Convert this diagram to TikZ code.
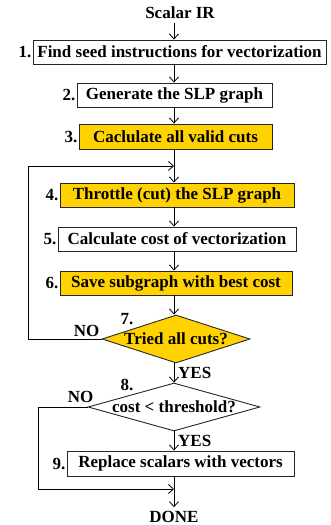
\documentclass[tikz,border=0pt]{standalone}
\usepackage{fontspec}
\setmainfont{Liberation Serif}
\usetikzlibrary{shapes.geometric, arrows.meta, positioning, calc}
\definecolor{slpyellow}{RGB}{255,210,0}
\tikzstyle{process} = [rectangle, minimum height=24pt, inner sep=2pt, text centered, draw=black!85, line width=0.9pt, fill=white]
\tikzstyle{hot} = [process, fill=slpyellow]
\tikzstyle{decision} = [diamond, inner sep=0pt, draw=black!85, line width=0.9pt, text centered]
\tikzstyle{num} = [inner sep=1pt]
\tikzstyle{lbl} = [inner sep=0pt]
\tikzstyle{arrow} = [line width=0.8pt, -{Straight Barb[length=5pt,width=9pt]}]

\begin{document}
\begin{tikzpicture}[x=1pt, y=1pt, font=\fontsize{17}{20}\selectfont\bfseries]
        \useasboundingbox (0,0) rectangle (331,525);
        \coordinate (spine) at (174,0);

        % Flujo principal
        \node (ir) at (180,512) {Scalar IR};
        \node (step1) [process, minimum width=293pt] at (179.5,473) {Find seed instructions for vectorization};
        \node (step2) [process, minimum width=195pt] at (174.5,430) {Generate the SLP graph};
        \node (step3) [hot, minimum width=193pt, minimum height=25pt] at (175.5,388.5) {Caclulate all valid cuts};
        \node (step4) [hot, minimum width=234pt] at (177,330) {Throttle (cut) the SLP graph};
        \node (step5) [process, minimum width=238pt] at (177,286) {Calculate cost of vectorization};
        \node (step6) [hot, minimum width=232pt] at (176,242) {Save subgraph with best cost};
        \node (dec7) [decision, fill=slpyellow, aspect=3.08, minimum width=148pt, minimum height=48pt] at (176,186) {Tried all cuts?};
        \node (dec8) [decision, fill=white, aspect=3.58, minimum width=172pt, minimum height=48pt] at (174,118) {cost < threshold?};
        \node (step9) [process, minimum width=227pt, minimum height=25pt] at (180.5,61.5) {Replace scalars with vectors};
        \node (done) at (174,8.5) {DONE};

        % Numeros
        \node (n1) [num, left=0pt of step1] {1.};
        \node (n2) [num, left=0pt of step2] {2.};
        \node (n3) [num, left=0pt of step3] {3.};
        \node (n4) [num, left=0pt of step4] {4.};
        \node (n5) [num, left=0pt of step5] {5.};
        \node (n6) [num, left=0pt of step6] {6.};
        \node (n7) [num] at ([shift={(-49,-5)}]dec7.north) {7.};
        \node (n8) [num] at ([shift={(-47,-2)}]dec8.north) {8.};
        \node (n9) [num, left=0pt of step9] {9.};

        % Etiquetas SI / NO
        \node (no7) [lbl, anchor=south east] at ([shift={(-2,2)}]dec7.west) {NO};
        \node (yes7) [lbl, anchor=north west] at ([shift={(4,-4)}]dec7.south -| spine) {YES};
        \node (no8) [lbl, anchor=south east] at ([shift={(6,4)}]dec8.west) {NO};
        \node (yes8) [lbl, anchor=north west] at ([shift={(4,-4)}]dec8.south -| spine) {YES};

        % Conexiones
        \draw [arrow] (ir.south -| spine) -- (step1.north -| spine);
        \draw [arrow] (step1.south -| spine) -- (step2.north -| spine);
        \draw [arrow] (step2.south -| spine) -- (step3.north -| spine);
        \draw [arrow] (step3.south -| spine) -- (step4.north -| spine);
        \draw [arrow] (step4.south -| spine) -- (step5.north -| spine);
        \draw [arrow] (step5.south -| spine) -- (step6.north -| spine);
        \draw [arrow] (step6.south -| spine) -- (dec7.north -| spine);
        \draw [arrow] (dec7.south -| spine) -- (dec8.north -| spine);
        \draw [arrow] (dec8.south -| spine) -- (step9.north -| spine);
        \draw [arrow] (step9.south -| spine) -- (done.north -| spine);

        % Lazo de regreso (NO)
        \coordinate (loop7) at (28,359);
        \draw [arrow] (dec7.west) -- (dec7.west -| loop7) -- (loop7) -- (loop7 -| spine);
        \coordinate (loop8) at (38,36);
        \draw [arrow] (dec8.west) -- (dec8.west -| loop8) -- (loop8) -- (loop8 -| spine);

    \end{tikzpicture}
\end{document}
